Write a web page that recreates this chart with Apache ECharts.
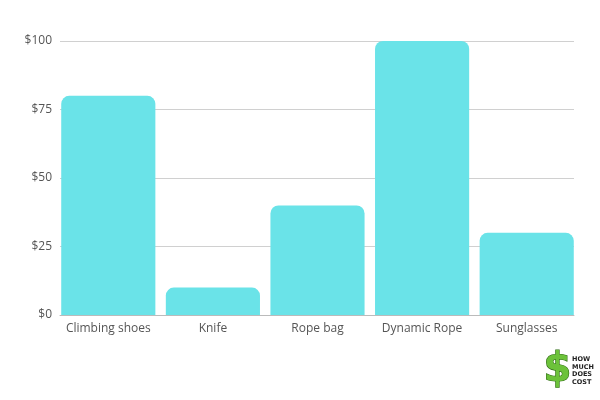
<!DOCTYPE html>
<html><head><meta charset="utf-8">
<script src="https://cdn.jsdelivr.net/npm/echarts@6/dist/echarts.min.js"></script>
<style>html,body{margin:0;padding:0;background:#fff}#c{width:600px;height:400px}</style>
</head><body><div id="c"></div>
<script>
const categories = ['Climbing shoes', 'Knife', 'Rope bag', 'Dynamic Rope', 'Sunglasses'];
const prices = [80, 10, 40, 100, 30];
const yTicks = [0, 25, 50, 75, 100];

const chart = echarts.init(document.getElementById('c'));
const font = '"Open Sans", sans-serif';
chart.setOption({
  animation: false,
  grid: [
    {left: 60, right: 26, top: 41, bottom: 85},
    {left: 56, right: 21, top: 41, bottom: 85}
  ],
  xAxis: [
    {gridIndex: 0, type: 'category', data: categories, axisLine: {lineStyle: {color: '#bbbbbb', width: 1}}, axisTick: {show: false}, axisLabel: {show: false}},
    {gridIndex: 1, type: 'category', data: categories, axisLine: {show: false}, axisTick: {show: false},
     axisLabel: {interval: 0, color: '#555', fontSize: 12, fontFamily: font, margin: 8}}
  ],
  yAxis: [
    {gridIndex: 0, type: 'value', min: 0, max: 100, interval: 25,
     axisLabel: {formatter: v => '$' + v, color: '#555', fontSize: 12, fontFamily: font, margin: 8,
       customValues: yTicks},
     axisLine: {show: false}, axisTick: {show: false},
     splitLine: {lineStyle: {color: '#d0d0d0', width: 1}}},
    {gridIndex: 1, type: 'value', min: 0, max: 100, show: false}
  ],
  series: [{
    type: 'bar', xAxisIndex: 1, yAxisIndex: 1, data: prices,
    barCategoryGap: '10%',
    itemStyle: {color: '#6ae3e8', borderRadius: [8, 8, 0, 0]}
  }],
  graphic: [
    {type: 'text', left: 543, top: 350, style: {text: '$', fill: '#6cc23a', stroke: '#2e6b12', lineWidth: 1.2, font: 'bold 40px "DejaVu Sans", sans-serif'}},
    {type: 'text', left: 572, top: 356, style: {text: 'HOW\nMUCH\nDOES\nCOST', fill: '#222', font: 'bold 6.5px "DejaVu Sans", sans-serif', lineHeight: 7.5}}
  ]
});
</script></body></html>
